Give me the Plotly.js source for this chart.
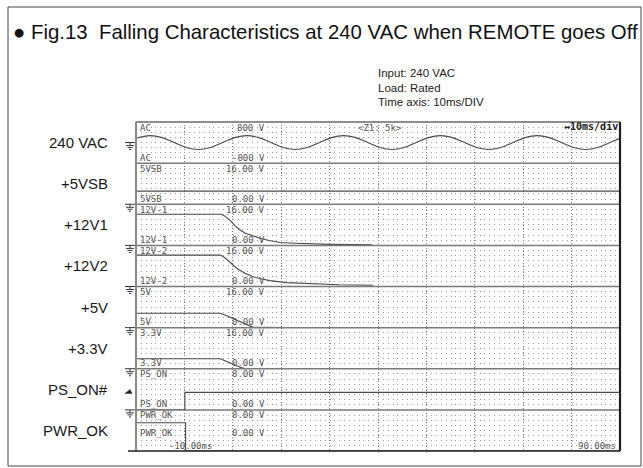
<!DOCTYPE html>
<html><head><meta charset="utf-8">
<script src="https://cdn.plot.ly/plotly-3.0.1.min.js"></script>
<style>html,body{margin:0;padding:0;background:#fff}#chart{width:643px;height:468px}</style>
</head><body><div id="chart"></div>
<script>
// ---------------- data ----------------
const channelNames = ['AC','5VSB','12V-1','12V-2','5V','3.3V','PS_ON','PWR_OK'];
const rowLabels = ['240 VAC','+5VSB','+12V1','+12V2','+5V','+3.3V','PS_ON#','PWR_OK'];
const scaleMin = [-800,0,0,0,0,0,0,0];
const scaleMax = [800,16,16,16,16,16,8,8];
const topScaleText = ['800 V','16.00 V','16.00 V','16.00 V','16.00 V','16.00 V','8.00 V','8.00 V'];
const bottomScaleText = ['-800 V','0.00 V','0.00 V','0.00 V','0.00 V','0.00 V','0.00 V','0.00 V'];
const timeLabels = ['-10.00ms','90.00ms'];
const timeRange = [-10, 90];

const acTime = [-10,-7.1,-4.6,-2.1,0.4,2.9,5.4,7.9,10.4,12.9,15.4,17.9,20.4,22.9,25.4,27.9,30.4,32.9,35.4,37.9,40.4,42.9,45.4,47.9,50.4,52.9,55.4,57.9,60.4,62.9,65.4,67.9,70.4,72.9,75.4,77.9,80.4,82.9,85.4,87.9,90];
const acVolt = [165,270,191,0,-191,-270,-191,0,191,270,191,0,-191,-270,-191,0,191,270,191,0,-191,-270,-191,0,191,270,191,0,-191,-270,-191,0,191,270,191,0,-191,-270,-191,0,165];

const sbTime = [-10, 90];
const sbVolt = [5.1, 5.1];

const v12aTime = [-10,7.7,8.5,9.5,10.5,11.5,12.5,14,15.6,17.5,19.8,23,26.6,30,35,38.8];
const v12aVolt = [12.1,12.1,11.2,9.6,7.6,6.0,4.8,3.7,2.8,1.9,1.1,0.8,0.55,0.4,0.3,0.25];

const v12bTime = [-10,7.5,8.5,9.5,10.8,12.5,14.2,16,17.7,21.1,26.6,32,39];
const v12bVolt = [12.2,12.2,11.0,9.4,7.1,5.2,3.8,2.9,2.3,1.5,1.0,0.7,0.5];

const v5Time = [-10,7.4,8.5,9.6,10.8,12.1,13.2,14.2,21.4];
const v5Volt = [5.6,5.6,4.8,3.9,2.96,1.67,0.7,0.1,0];

const v33Time = [-10,7.4,8.5,9.5,10.5,11.5,12.5,13,17.3];
const v33Volt = [3.9,3.9,3.0,2.1,1.4,0.6,0.1,0,0];

const psOnTime = [-10,0.1,0.1,90];
const psOnVolt = [0,0,3.4,3.4];

const pwrOkTime = [-10,0.25,0.25,90];
const pwrOkVolt = [5.5,5.5,0,0];

// ---------------- layout helpers ----------------
const L = 136, R = 620, T = 122, B = 451, W = R - L, H = B - T;
const fx = x => (x - L) / W;
const fy = y => (B - y) / H;
const n = channelNames.length;
const stripH = H / n;
const yName = k => (k === 0 ? 'y' : 'y' + (k + 1));
const yAxisKey = k => (k === 0 ? 'yaxis' : 'yaxis' + (k + 1));

const series = [
  {t: acTime, v: acVolt, k: 0, shape: 'spline'},
  {t: sbTime, v: sbVolt, k: 1},
  {t: v12aTime, v: v12aVolt, k: 2},
  {t: v12bTime, v: v12bVolt, k: 3},
  {t: v5Time, v: v5Volt, k: 4},
  {t: v33Time, v: v33Volt, k: 5},
  {t: psOnTime, v: psOnVolt, k: 6},
  {t: pwrOkTime, v: pwrOkVolt, k: 7}
];

const traceColor = '#4a4a4a';
const data = series.map(s => ({
  type: 'scatter', mode: 'lines', x: s.t, y: s.v, xaxis: 'x', yaxis: yName(s.k),
  line: {color: traceColor, width: 1.1, shape: s.shape || 'linear', smoothing: 1},
  hoverinfo: 'skip', cliponaxis: true
}));

const layout = {
  width: 643, height: 468,
  margin: {l: L, r: 643 - R, t: T, b: 468 - B, pad: 0},
  paper_bgcolor: '#ffffff', plot_bgcolor: '#ffffff',
  showlegend: false,
  font: {family: 'Liberation Sans, Arial, sans-serif', color: '#222'},
  title: {
    text: '\u25CF Fig.13  Falling Characteristics at 240 VAC when REMOTE goes Off',
    x: 13 / 643, xanchor: 'left', xref: 'container',
    y: 1 - 32 / 468, yanchor: 'middle', yref: 'container',
    font: {family: 'Liberation Sans, Arial, sans-serif', size: 20.4, color: '#111'}
  },
  xaxis: {
    domain: [0, 1], range: timeRange, anchor: yName(n - 1),
    showgrid: true, gridcolor: '#7c7c7c', griddash: '1px,2px', gridwidth: 1,
    tick0: 0, dtick: 10, showticklabels: false, ticks: '', zeroline: false, showline: false,
    fixedrange: true
  },
  shapes: [], annotations: []
};

for (let k = 0; k < n; k++) {
  layout[yAxisKey(k)] = {
    domain: [1 - (k + 1) / n, 1 - k / n],
    range: [scaleMin[k], scaleMax[k]], anchor: 'x',
    showgrid: true, gridcolor: '#9a9a9a', griddash: '1px,3.84px', gridwidth: 1,
    tick0: scaleMin[k], dtick: (scaleMax[k] - scaleMin[k]) / 8,
    showticklabels: false, ticks: '', zeroline: false, showline: false, fixedrange: true
  };
}

const scopeFont = {family: 'DejaVu Sans Mono, monospace', size: 9, color: '#555'};
function ann(text, x, y, xanchor, font, extra) {
  layout.annotations.push(Object.assign({
    text: text, xref: 'paper', yref: 'paper', x: fx(x), y: fy(y),
    xanchor: xanchor, yanchor: 'middle', showarrow: false, font: font
  }, extra || {}));
}

// strip separators
for (let k = 1; k < n; k++) {
  layout.shapes.push({type: 'line', xref: 'paper', yref: 'paper', x0: 0, x1: 1, y0: k / n, y1: k / n,
    line: {color: '#7a7a7a', width: 1.5}});
}
// plot frame
layout.shapes.push({type: 'line', xref: 'paper', yref: 'paper', x0: 0, x1: 1, y0: 1, y1: 1, line: {color: '#6a6a6a', width: 1.5}});
layout.shapes.push({type: 'line', xref: 'paper', yref: 'paper', x0: 0, x1: 0, y0: 0, y1: 1, line: {color: '#8a8a8a', width: 2}});
layout.shapes.push({type: 'line', xref: 'paper', yref: 'paper', x0: 1, x1: 1, y0: 0, y1: 1, line: {color: '#1e1e1e', width: 2.2}});
layout.shapes.push({type: 'line', xref: 'paper', yref: 'paper', x0: fx(128), x1: 1, y0: 0, y1: 0, line: {color: '#1e1e1e', width: 1.5}});
// outer figure border
layout.shapes.push({type: 'rect', xref: 'paper', yref: 'paper', x0: fx(8), x1: fx(641), y0: fy(466), y1: fy(7),
  line: {color: '#444', width: 1}, fillcolor: 'rgba(0,0,0,0)', layer: 'below'});

// ground markers at each channel's zero level (except last)
for (let k = 0; k < n - 1; k++) {
  const dom = layout[yAxisKey(k)].domain;
  const zeroFrac = (0 - scaleMin[k]) / (scaleMax[k] - scaleMin[k]);
  layout.shapes.push({type: 'path', xref: 'paper', yref: 'paper', xsizemode: 'pixel', ysizemode: 'pixel',
    xanchor: 0, yanchor: dom[0] + zeroFrac * (dom[1] - dom[0]),
    path: 'M-11,0 H-1 M-6,0 V-3 M-10,-3 H-2 M-8.5,-5 H-3.5 M-7,-7 H-5',
    line: {color: '#333', width: 1}});
}
// trigger marker on PS_ON
layout.shapes.push({type: 'path', xref: 'paper', yref: yName(6), xsizemode: 'pixel', ysizemode: 'pixel',
  xanchor: 0, yanchor: Math.max(...psOnVolt),
  path: 'M-11,-1 L-4,-1 L-6,3 Z', fillcolor: '#222', line: {color: '#222', width: 0.5}});

// channel row labels (outside, left)
for (let k = 0; k < n; k++) {
  const cy = T + (k + 0.5) * stripH;
  ann(rowLabels[k], 110, cy, 'right', {family: 'Liberation Sans, Arial, sans-serif', size: 15, color: '#1a1a1a'});
}
// scope labels inside strips
for (let k = 0; k < n; k++) {
  const top = T + k * stripH, bot = top + stripH;
  ann(channelNames[k], 138, top + 5.5, 'left', scopeFont);
  ann(topScaleText[k], 267, top + 5.5, 'right', scopeFont);
  const by = (k === n - 1) ? bot - 18 : bot - 5.5;
  ann(channelNames[k], 138, by, 'left', scopeFont);
  ann(bottomScaleText[k], 267, by, 'right', scopeFont);
}
ann('&lt;Z1: 5k&gt;', 380, 127.5, 'center', scopeFont);
ann('\u219410ms/div', 620, 127, 'right', {family: 'DejaVu Sans Mono, monospace', size: 10, color: '#222', weight: 'bold'});
ann(timeLabels[0], 190, 446, 'center', scopeFont);
ann(timeLabels[1], 618, 446, 'right', scopeFont);

// info block
const infoFont = {family: 'Liberation Sans, Arial, sans-serif', size: 11.5, color: '#222'};
ann('Input: 240 VAC', 376, 73, 'left', infoFont);
ann('Load: Rated', 376, 87.5, 'left', infoFont);
ann('Time axis: 10ms/DIV', 376, 102, 'left', infoFont);

Plotly.newPlot('chart', data, layout, {staticPlot: true, displayModeBar: false});
</script>
</body></html>
